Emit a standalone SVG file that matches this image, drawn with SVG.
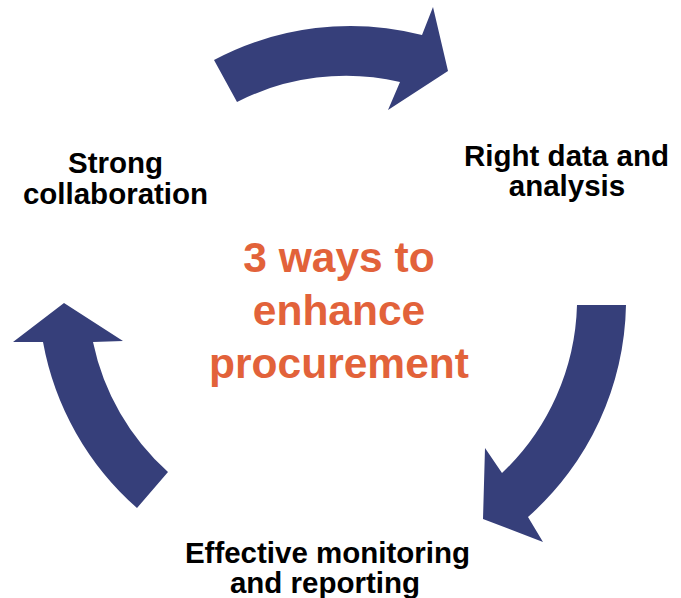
<svg xmlns="http://www.w3.org/2000/svg" width="681" height="598" viewBox="0 0 681 598">
<style>
.arrow{fill:#363F7A;}
.lbl{font-family:"Liberation Sans",Arial,sans-serif;font-weight:bold;font-size:29.5px;fill:#000;text-anchor:middle;}
.title{font-family:"Liberation Sans",Arial,sans-serif;font-weight:bold;font-size:42.5px;fill:#E2623A;text-anchor:middle;}
</style>
<rect width="681" height="598" fill="#fff"/>
<g id="connectors">
<path id="arrow-top" class="arrow" d="M214,60 A290,290 0 0,1 422,35 L433,7 L448,71 L388,110 L400,82 A240,240 0 0,0 237,102 Z"/>
<path id="arrow-right" class="arrow" d="M577,305 A240,240 0 0,1 502,473 L485,448 L483,519 L543,542 L528,517 A290,290 0 0,0 626,305 Z"/>
<path id="arrow-left" class="arrow" d="M64,303 L123,341 L93,342 A240,240 0 0,0 168,472 L137,508 A290,290 0 0,1 43,342 L13,342 Z"/>
</g>
<g id="center">
<text class="title" x="339" y="272">3 ways to</text>
<text class="title" x="339" y="325">enhance</text>
<text class="title" x="339" y="378">procurement</text>
</g>
<g id="node-collaboration">
<text class="lbl" x="115.5" y="173">Strong</text>
<text class="lbl" x="115.5" y="204">collaboration</text>
</g>
<g id="node-data">
<text class="lbl" x="566.5" y="166">Right data and</text>
<text class="lbl" x="567" y="196">analysis</text>
</g>
<g id="node-monitoring">
<text class="lbl" x="327.5" y="563">Effective monitoring</text>
<text class="lbl" x="325" y="593">and reporting</text>
</g>
</svg>
